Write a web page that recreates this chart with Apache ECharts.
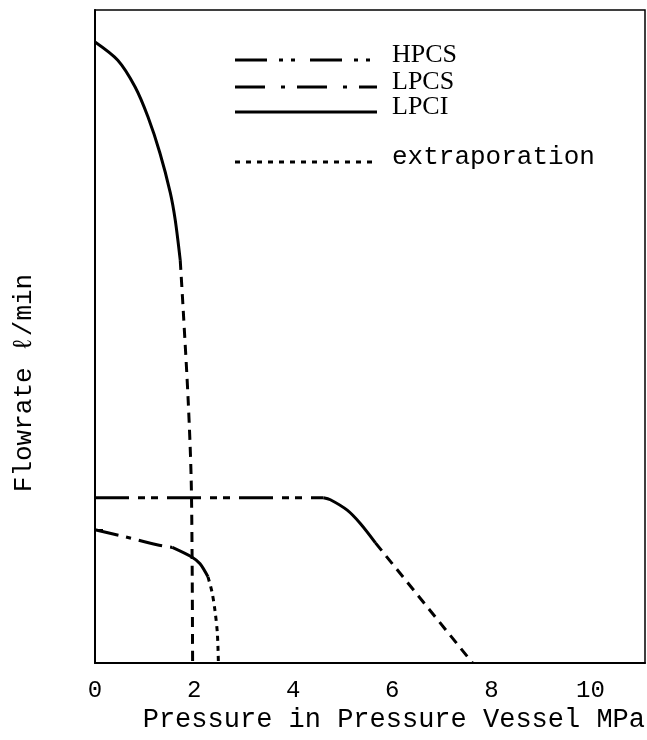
<!DOCTYPE html>
<html>
<head>
<meta charset="utf-8">
<script src="https://cdn.jsdelivr.net/npm/echarts@6/dist/echarts.min.js"></script>
<style>
  html, body { margin: 0; padding: 0; background: #fff; }
  #chart { width: 647px; height: 740px; }
</style>
</head>
<body>
<div id="chart"></div>
<script>
// Pressure (MPa) vs. relative flowrate for the emergency core cooling pumps.
// Each curve is split into the part read from pump data and its extrapolation.

const xTicks = [0, 2, 4, 6, 8, 10];

// LPCI
const lpciCurve = [[0, 95.1], [0.46, 92.3], [0.81, 88.2], [1.07, 83.6], [1.31, 78.1], [1.52, 72.0], [1.62, 67.8], [1.72, 61.7]];
const lpciExtrap = [[1.72, 61.7], [1.78, 54.1], [1.88, 40.3], [1.94, 28.5], [1.96, 15.8], [1.97, 0]];

// HPCS
const hpcsFlat = [[0, 25.3], [4.61, 25.3]];
const hpcsCurve = [[4.61, 25.3], [4.75, 25.0], [5.09, 23.4], [5.35, 21.4], [5.66, 18.4]];
const hpcsExtrap = [[5.66, 18.4], [7.62, 0]];

// LPCS
const lpcsFlat = [[0, 20.4], [0.57, 19.4], [1.25, 18.1], [1.56, 17.7]];
const lpcsCurve = [[1.56, 17.7], [1.96, 16.2], [2.12, 15.2], [2.28, 13.2]];
const lpcsExtrap = [[2.28, 13.2], [2.36, 10.9], [2.42, 8.1], [2.47, 4.5], [2.49, 0]];

// rated flow levels marked on the flowrate axis
const levelTicks = [25.3, 20.4];

const legendNames = ['HPCS', 'LPCS', 'LPCI', 'extraporation'];

const MONO = '"Liberation Mono", "DejaVu Sans Mono", monospace';
const SERIF = '"Liberation Serif", "DejaVu Serif", serif';

const HPCS_DASH = [34, 9, 7, 6, 7, 9];
const LPCS_DASH = [24, 8, 5, 8];
const EXTRAP_DASH = [10, 7];
const LPCS_EXTRAP_DASH = [5, 5];

function seg(data, dash, smooth) {
  return {
    type: 'line',
    data: data,
    symbol: 'none',
    smooth: smooth || false,
    silent: true,
    lineStyle: { color: '#000', width: 3, type: dash || 'solid', cap: 'butt' },
    z: 3
  };
}

const chart = echarts.init(document.getElementById('chart'), null, { renderer: 'canvas' });

// legend drawn as line samples with captions
const legendX0 = 235, legendX1 = 377, legendTextX = 392;
const legendRows = [
  { y: 60, dash: [32, 12, 4, 8, 4, 15], name: legendNames[0], font: SERIF },
  { y: 87, dash: [30, 16, 4, 12], name: legendNames[1], font: SERIF },
  { y: 112, dash: null, name: legendNames[2], font: SERIF },
  { y: 162, dash: [5, 6], name: legendNames[3], font: MONO }
];
const legendGraphics = [];
legendRows.forEach(function (r) {
  legendGraphics.push({
    type: 'line',
    shape: { x1: legendX0, y1: r.y, x2: legendX1, y2: r.y },
    style: { stroke: '#000', lineWidth: 3, lineDash: r.dash || null }
  });
  legendGraphics.push({
    type: 'text',
    x: legendTextX,
    y: r.y - 5,
    style: {
      text: r.name,
      font: '26px ' + r.font,
      fill: '#000',
      textAlign: 'left',
      textVerticalAlign: 'middle'
    }
  });
});

const option = {
  animation: false,
  backgroundColor: '#fff',
  grid: {
    left: 95, right: 2, top: 10, bottom: 77,
    show: true, borderColor: '#000', borderWidth: 1.5, backgroundColor: 'transparent'
  },
  xAxis: {
    type: 'value',
    min: 0, max: 11.1, interval: 2,
    axisLine: { show: true, onZero: false, lineStyle: { color: '#000', width: 2 } },
    axisTick: { show: false },
    splitLine: { show: false },
    axisLabel: {
      showMaxLabel: false,
      margin: 16,
      color: '#000',
      fontSize: 24,
      fontFamily: MONO,
      formatter: function (v) { return xTicks.indexOf(v) >= 0 ? String(v) : ''; }
    }
  },
  yAxis: {
    type: 'value',
    min: 0, max: 100,
    axisLine: { show: true, onZero: false, lineStyle: { color: '#000', width: 2 } },
    axisTick: { show: true, inside: true, length: 8, customValues: levelTicks, lineStyle: { color: '#000', width: 2 } },
    axisLabel: { show: false },
    splitLine: { show: false }
  },
  series: [
    seg(lpciCurve, 'solid', 0.3),
    seg(lpciExtrap, EXTRAP_DASH, 0.3),
    seg(hpcsFlat, HPCS_DASH),
    seg(hpcsCurve, 'solid', 0.3),
    seg(hpcsExtrap, EXTRAP_DASH),
    seg(lpcsFlat, LPCS_DASH, 0.3),
    seg(lpcsCurve, 'solid', 0.3),
    seg(lpcsExtrap, LPCS_EXTRAP_DASH, 0.3)
  ],
  graphic: legendGraphics.concat([
    {
      type: 'text',
      x: 24, y: 383,
      rotation: Math.PI / 2,
      style: {
        text: 'Flowrate ℓ/min',
        font: '26px ' + MONO,
        fill: '#000',
        textAlign: 'center',
        textVerticalAlign: 'middle'
      }
    },
    {
      type: 'text',
      x: 645, y: 720,
      style: {
        text: 'Pressure in Pressure Vessel MPa',
        font: '27px ' + MONO,
        fill: '#000',
        textAlign: 'right',
        textVerticalAlign: 'middle'
      }
    }
  ])
};

chart.setOption(option);
</script>
</body>
</html>
